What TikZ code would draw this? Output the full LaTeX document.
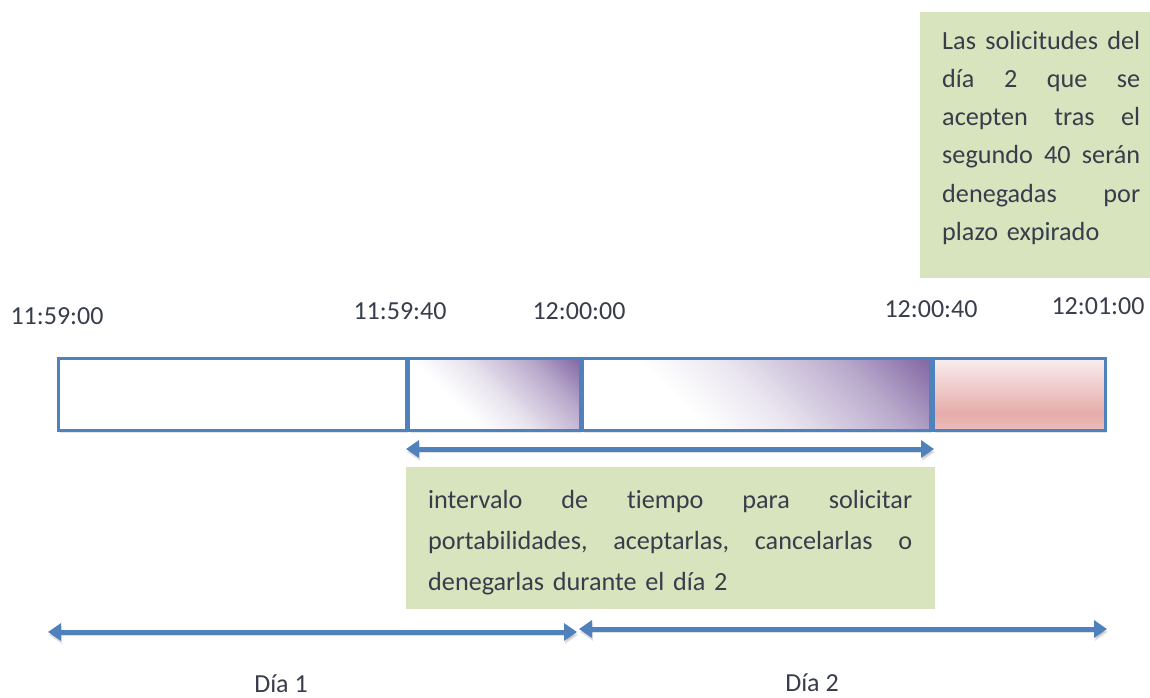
\documentclass[tikz,border=0pt]{standalone}
\usepackage{fontspec}
\setmainfont{Carlito}[Ligatures=NoCommon]
\usetikzlibrary{arrows.meta}

\definecolor{barblue}{HTML}{4F81BD}
\definecolor{notegreen}{HTML}{D7E4BD}
\definecolor{ink}{HTML}{383D4B}
\definecolor{violetd}{HTML}{8064A2}
\definecolor{pinkt}{HTML}{F9EEEE}
\definecolor{pinkm}{HTML}{E5ACAA}
\definecolor{pinkb}{HTML}{EBBDBB}

% diagonal fade: white in the lower left, violet towards the upper right corner
\pgfdeclarehorizontalshading{violetfade}{100bp}{color(0bp)=(white); color(36bp)=(white); color(50bp)=(violetd!16); color(70bp)=(violetd!55); color(86bp)=(violetd); color(100bp)=(violetd)}
% vertical fade for the expired interval
\pgfdeclareverticalshading{pinkfade}{100bp}{color(0bp)=(pinkb); color(25bp)=(pinkb); color(37bp)=(pinkm); color(75bp)=(pinkt); color(100bp)=(pinkt)}

\tikzset{
  seg/.style={draw=barblue, line width=3pt, inner sep=0pt, anchor=north west,
    minimum height=71.5pt,
    preaction={fill=black, opacity=.10, transform canvas={xshift=1.5pt, yshift=-3pt}}},
  tlabel/.style={font=\fontsize{26}{30}\selectfont, text=ink, anchor=base, inner sep=0pt},
  span/.style={draw=barblue, line width=5pt,
    {Triangle[length=13pt,width=17pt]}-{Triangle[length=13pt,width=17pt]},
    preaction={draw=black, opacity=.12, transform canvas={xshift=1pt, yshift=-3pt}}},
  notebox/.style={fill=notegreen, inner sep=0pt, anchor=north west},
  notetext/.style={text=ink, inner sep=0pt, anchor=north west, align=left},
}

\begin{document}
\begin{tikzpicture}[x=1pt, y=-1pt]
\useasboundingbox (0,0) rectangle (1150,698);

% time bar
\node[seg, fill=white, minimum width=348pt] (s1) at (56.5,357) {};
\node[seg, shade, shading=violetfade, shading angle=45, minimum width=172pt] (s2) at (406.5,357) {};
\node[seg, shade, shading=violetfade, shading angle=45, minimum width=348pt] (s3) at (580.5,357) {};
\node[seg, shade, shading=pinkfade, minimum width=172pt] (s4) at (932,357) {};

% instants
\node[tlabel] (t0) at (57,324) {11:59:00};
\node[tlabel] (t1) at (400,319) {11:59:40};
\node[tlabel] (t2) at (579,319) {12:00:00};
\node[tlabel] (t3) at (931,317) {12:00:40};
\node[tlabel] (t4) at (1098,314) {12:01:00};

% note on the expired requests
\node[notebox, minimum width=230pt, minimum height=266pt] (n1) at (920,12) {};
\node[notetext, text width=198pt, font=\fontsize{26.2}{38.2}\selectfont] (n1t) at (942,22.3) {%
  \strut\hbox to 198pt{Las\hfill solicitudes\hfill del}\\
  \strut\hbox to 198pt{día\hfill 2\hfill que\hfill se}\\
  \strut\hbox to 198pt{acepten\hfill tras\hfill el}\\
  \strut\hbox to 198pt{segundo\hfill 40\hfill serán}\\
  \strut\hbox to 198pt{denegadas\hfill por}\\
  \strut plazo expirado};

% interval of day 2 operations
\coordinate (ia) at (406,449);
\coordinate (ib) at (934,449);
\draw[span] (ia) -- (ib);

\node[notebox, minimum width=529pt, minimum height=142pt] (n2) at (406,467) {};
\node[notetext, text width=484pt, font=\fontsize{26.2}{41}\selectfont] (n2t) at (428,479.3) {%
  \strut\hbox to 484pt{intervalo\hfill de\hfill tiempo\hfill para\hfill solicitar}\\
  \strut\hbox to 484pt{portabilidades,\hfill aceptarlas,\hfill cancelarlas\hfill o}\\
  \strut denegarlas durante el día 2};

% days
\coordinate (d1a) at (48,632);
\coordinate (d1b) at (577,632);
\coordinate (d2a) at (579,629);
\coordinate (d2b) at (1107,629);
\draw[span] (d1a) -- (d1b);
\draw[span] (d2a) -- (d2b);

\node[tlabel] (l1) at (281,692) {Día 1};
\node[tlabel] (l2) at (812,691) {Día 2};
\end{tikzpicture}
\end{document}
